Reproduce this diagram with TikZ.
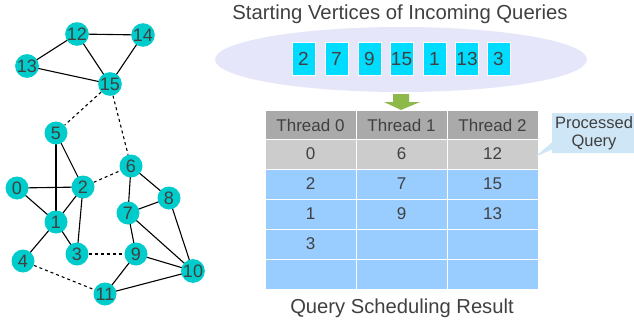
\documentclass[tikz,border=0pt]{standalone}
\usepackage{fontspec}
\setmainfont{Liberation Sans}
\usetikzlibrary{shapes.callouts,shapes.geometric,backgrounds}
\definecolor{vcol}{RGB}{0,204,204}
\definecolor{txt}{RGB}{64,64,64}
\definecolor{ell}{RGB}{230,230,250}
\definecolor{qbox}{RGB}{0,220,255}
\definecolor{hdr}{RGB}{170,170,170}
\definecolor{prow}{RGB}{204,204,204}
\definecolor{brow}{RGB}{153,204,255}
\definecolor{arr}{RGB}{141,185,74}
\definecolor{call}{RGB}{207,230,246}
\tikzset{
  vtx/.style={circle,fill=vcol,minimum size=23pt,inner sep=0pt,text=txt,font=\fontsize{18}{18}\selectfont},
  edge/.style={line width=1.1pt,black},
  dedge/.style={line width=1.1pt,black,dash pattern=on 3pt off 3pt},
  qb/.style={rectangle,fill=qbox,draw=white,line width=0.8pt,minimum width=23pt,minimum height=33pt,inner sep=0pt,text=txt,font=\fontsize{19}{19}\selectfont},
  cell/.style={rectangle,draw=white,line width=1pt,minimum width=91pt,minimum height=30pt,inner sep=0pt,text=txt,font=\fontsize{17}{17}\selectfont},
  lbl/.style={text=txt,inner sep=0pt},
  cellt/.style={lbl,font=\fontsize{17}{17}\selectfont}
}
\begin{document}
\begin{tikzpicture}[x=1pt,y=-1pt]
\useasboundingbox (0,0) rectangle (634,321);
% graph
\node[vtx] (n12) at (77,34) {12};
\node[vtx] (n14) at (143,35) {14};
\node[vtx] (n13) at (27,66) {13};
\node[vtx] (n15) at (110,84) {15};
\node[vtx] (n5) at (56,133) {5};
\node[vtx] (n6) at (131,166) {6};
\node[vtx] (n0) at (17,188) {0};
\node[vtx] (n2) at (83,187) {2};
\node[vtx] (n8) at (169,198) {8};
\node[vtx] (n7) at (128,213) {7};
\node[vtx] (n1) at (56,222) {1};
\node[vtx] (n3) at (77,254) {3};
\node[vtx] (n9) at (136,254) {9};
\node[vtx] (n4) at (23,261) {4};
\node[vtx] (n10) at (193,271) {10};
\node[vtx] (n11) at (105,294) {11};
\begin{scope}[on background layer]
\foreach \a/\b in {n12/n14,n12/n13,n12/n15,n13/n15,n14/n15,n5/n1,n5/n2,n0/n2,n0/n1,n1/n2,n1/n4,n1/n3,n2/n3,n6/n7,n6/n8,n7/n8,n7/n9,n7/n10,n8/n10,n9/n10,n9/n11,n11/n10}
  \draw[edge] (\a.center) -- (\b.center);
\foreach \a/\b in {n15/n5,n15/n6,n2/n6,n3/n9,n4/n11}
  \draw[dedge] (\a) -- (\b);
\end{scope}
% title
\node[lbl,font=\fontsize{20.3}{20.3}\selectfont] (title) at (400,14) {Starting Vertices of Incoming Queries};
\node[ellipse,fill=ell,minimum width=372pt,minimum height=65pt,inner sep=0pt] (pool) at (401,59.5) {};
\foreach \v/\x [count=\i] in {2/303.5,7/336.5,9/369.5,15/401.5,1/434.5,13/467,3/498.5}
  \node[qb] (q\i) at (\x,59) {\v};
% arrow
\fill[arr] (393,94) -- (409,94) -- (409,102) -- (420,102) -- (401,110) -- (384,102) -- (393,102) -- cycle;
% table
\foreach \c/\x in {0/310.5,1/401.5,2/492.5}{
  \node[cell,fill=hdr,minimum height=29pt] (h\c) at (\x,125) {Thread \c};
}
\foreach \r/\y/\fc in {1/154/prow,2/184/brow,3/214/brow,4/244/brow,5/274/brow}{
  \foreach \c/\x in {0/310.5,1/401.5,2/492.5}{
    \node[cell,fill=\fc,minimum height=30pt] (c\r\c) at (\x,\y) {};
  }
}
\node[cellt] at (c10) {0};
\node[cellt] at (c11) {6};
\node[cellt] at (c12) {12};
\node[cellt] at (c20) {2};
\node[cellt] at (c21) {7};
\node[cellt] at (c22) {15};
\node[cellt] at (c30) {1};
\node[cellt] at (c31) {9};
\node[cellt] at (c32) {13};
\node[cellt] at (c40) {3};
% callout
\coordinate (tip) at (535,157);
\node[rectangle callout,fill=call,minimum width=84pt,minimum height=40pt,inner sep=0pt,align=center,text=txt,font=\fontsize{16.5}{18}\selectfont,callout absolute pointer={(tip)}] (pq) at (594,133) {Processed\\Query};
% caption
\node[lbl,font=\fontsize{20.2}{20.2}\selectfont] (cap) at (402,308) {Query Scheduling Result};
\end{tikzpicture}
\end{document}
